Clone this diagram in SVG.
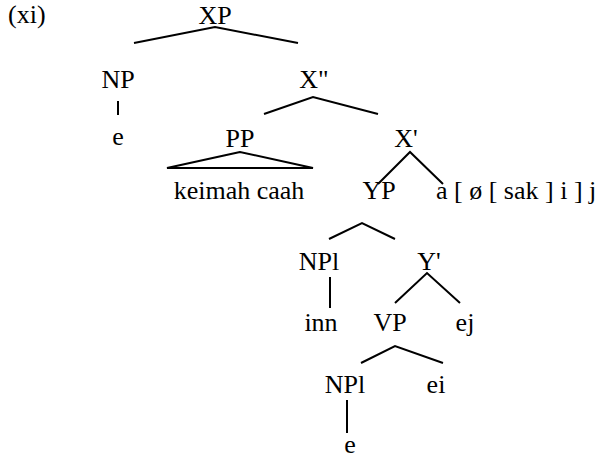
<svg xmlns="http://www.w3.org/2000/svg" width="602" height="458" viewBox="0 0 602 458">
  <style>
    .lbl { font-family: "Liberation Serif"; font-size: 26px; fill: #000; }
    .edge { fill: none; stroke: #000; stroke-width: 2; stroke-linejoin: miter; }
  </style>
  <rect width="602" height="458" fill="#fff"/>

  <text class="lbl" x="8" y="23">(xi)</text>

  <!-- tree branches -->
  <g id="edges">
    <polyline class="edge" points="134,43 215,27 298,43"/>
    <line class="edge" x1="118" y1="101" x2="118" y2="115"/>
    <polyline class="edge" points="264,114 313,97 378,114"/>
    <polygon class="edge" points="240,152 167,168 313,168"/>
    <polyline class="edge" points="378,184 410,152 443,184"/>
    <polyline class="edge" points="329,239 362,223 395,239"/>
    <line class="edge" x1="330" y1="277" x2="330" y2="308"/>
    <polyline class="edge" points="395,303 427,273 460,303"/>
    <polyline class="edge" points="361,363 395,346 443,363"/>
    <line class="edge" x1="347" y1="400" x2="347" y2="433"/>
  </g>

  <!-- node labels, left-aligned at precomputed x -->
  <g id="n-xp"><text class="lbl" x="198.4" y="24">XP</text></g>
  <g id="n-np"><text class="lbl" x="101.4" y="88">NP</text></g>
  <g id="n-e1"><text class="lbl" x="112.2" y="145">e</text></g>
  <g id="n-x2"><text class="lbl" x="299.3" y="88">X"</text></g>
  <g id="n-pp"><text class="lbl" x="225.5" y="147">PP</text></g>
  <g id="n-keimah"><text class="lbl" x="173.7" y="199">keimah caah</text></g>
  <g id="n-x1"><text class="lbl" x="394.3" y="147">X'</text></g>
  <g id="n-yp"><text class="lbl" x="362.4" y="199">YP</text></g>
  <g id="n-a"><text class="lbl" x="436" y="199">a [ ø [ sak ] i ] j</text></g>
  <g id="n-npl1"><text class="lbl" x="298.8" y="270">NPl</text></g>
  <g id="n-y1"><text class="lbl" x="417.3" y="270">Y'</text></g>
  <g id="n-inn"><text class="lbl" x="304.4" y="331">inn</text></g>
  <g id="n-vp"><text class="lbl" x="373.4" y="331">VP</text></g>
  <g id="n-ej"><text class="lbl" x="455.6" y="331">ej</text></g>
  <g id="n-npl2"><text class="lbl" x="324.8" y="393">NPl</text></g>
  <g id="n-ei"><text class="lbl" x="426.6" y="393">ei</text></g>
  <g id="n-e2"><text class="lbl" x="344.2" y="453">e</text></g>
</svg>
